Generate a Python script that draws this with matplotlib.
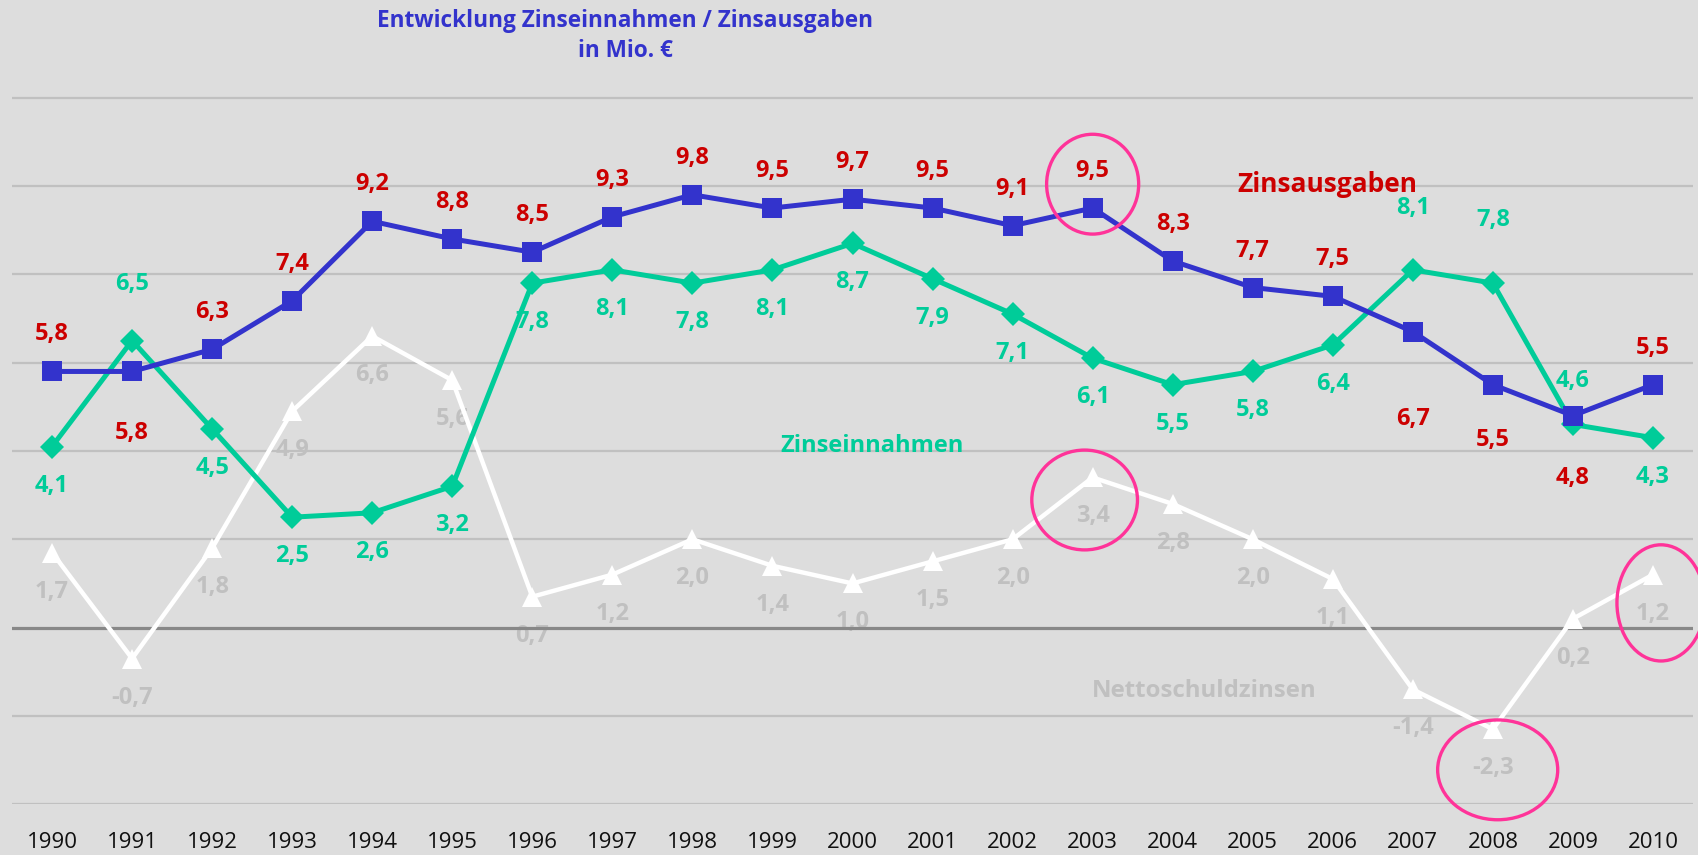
import matplotlib
matplotlib.use("Agg")
import matplotlib.pyplot as plt
from matplotlib.patches import Ellipse

years = list(range(1990, 2011))
zinsausgaben = [5.8, 5.8, 6.3, 7.4, 9.2, 8.8, 8.5, 9.3, 9.8, 9.5, 9.7, 9.5, 9.1, 9.5, 8.3, 7.7, 7.5, 6.7, 5.5, 4.8, 5.5]
zinseinnahmen = [4.1, 6.5, 4.5, 2.5, 2.6, 3.2, 7.8, 8.1, 7.8, 8.1, 8.7, 7.9, 7.1, 6.1, 5.5, 5.8, 6.4, 8.1, 7.8, 4.6, 4.3]
nettoschuldzinsen = [1.7, -0.7, 1.8, 4.9, 6.6, 5.6, 0.7, 1.2, 2.0, 1.4, 1.0, 1.5, 2.0, 3.4, 2.8, 2.0, 1.1, -1.4, -2.3, 0.2, 1.2]

title = "Entwicklung Zinseinnahmen / Zinsausgaben\nin Mio. €"

# label offsets (pixels, vertical) - layout only
off_aus = {1991: -62, 2007: -87, 2008: -55, 2009: -62}
off_ein = {1991: 57, 2007: 62, 2008: 63, 2009: 43}

BLUE = "#3333cc"
RED = "#cc0000"
GREEN = "#00cc99"
GRAYTXT = "#c0c0c0"
BG = "#dddddd"
PINK = "#ff3399"

plt.rcParams['font.family'] = ['Open Sans', 'DejaVu Sans']

fig = plt.figure(figsize=(16.99, 8.55), dpi=100, facecolor=BG)
ax = fig.add_axes([12/1699, 50.7/855, (1693-12)/1699, 804.3/855])
ax.set_facecolor(BG)
ax.set_xlim(1989.5, 2010.5)
ax.set_ylim(-4, 14.21)
for s in ax.spines.values():
    s.set_visible(False)
ax.set_yticks([])
ax.set_xticks(years)
ax.set_xticklabels([str(y) for y in years], fontsize=16, color="#111111")
ax.tick_params(axis='x', length=0, pad=20)

for g in range(-4, 13, 2):
    if g == 0:
        ax.axhline(g, color="#888888", lw=2.3, zorder=2.7)
    else:
        ax.axhline(g, color="#c0c0c0", lw=1.6, zorder=2)

ax.plot(years, nettoschuldzinsen, color="white", lw=3.2, marker="^", markersize=15,
        markeredgewidth=0, zorder=3)
ax.plot(years, zinseinnahmen, color=GREEN, lw=3.6, marker="D", markersize=12,
        markeredgewidth=0, zorder=4)
ax.plot(years, zinsausgaben, color=BLUE, lw=3.6, marker="s", markersize=14.5,
        markeredgewidth=0, zorder=5)

def fmt(v):
    return f"{v:.1f}".replace(".", ",")

for x, v in zip(years, zinsausgaben):
    ax.annotate(fmt(v), (x, v), xytext=(0, off_aus.get(x, 37)), textcoords="offset pixels",
                ha="center", va="center", fontsize=17, fontweight="bold", color=RED, zorder=2.5)
for x, v in zip(years, zinseinnahmen):
    ax.annotate(fmt(v), (x, v), xytext=(0, off_ein.get(x, -39)), textcoords="offset pixels",
                ha="center", va="center", fontsize=17, fontweight="bold", color=GREEN, zorder=2.5)
for x, v in zip(years, nettoschuldzinsen):
    ax.annotate(fmt(v), (x, v), xytext=(0, -39), textcoords="offset pixels",
                ha="center", va="center", fontsize=17, fontweight="bold", color=GRAYTXT, zorder=2.5)

ax.text(2005.93, 10.04, "Zinsausgaben", ha="center", va="center", fontsize=19,
        fontweight="bold", color=RED, zorder=6)
ax.text(2000.24, 4.11, "Zinseinnahmen", ha="center", va="center", fontsize=17,
        fontweight="bold", color=GREEN, zorder=6)
ax.text(2004.39, -1.44, "Nettoschuldzinsen", ha="center", va="center", fontsize=17.3,
        fontweight="bold", color=GRAYTXT, zorder=6)

fig.text(625/1699, 1 - 36/855, title, ha="center", va="center", fontsize=16.3,
         fontweight="bold", color=BLUE, linespacing=1.3)

# highlight circles around selected points
highlights = [
    (2003, 10.04, 1.15, 2.26),
    (2002.9, 2.89, 1.32, 2.26),
    (2008.06, -3.22, 1.5, 2.26),
    (2010.1, 0.56, 1.1, 2.63),
]
for cx, cy, w, h in highlights:
    ax.add_patch(Ellipse((cx, cy), w, h, fill=False, edgecolor=PINK, lw=2.4,
                         zorder=7, clip_on=False))

fig.savefig("out.png", dpi=100, facecolor=BG)
